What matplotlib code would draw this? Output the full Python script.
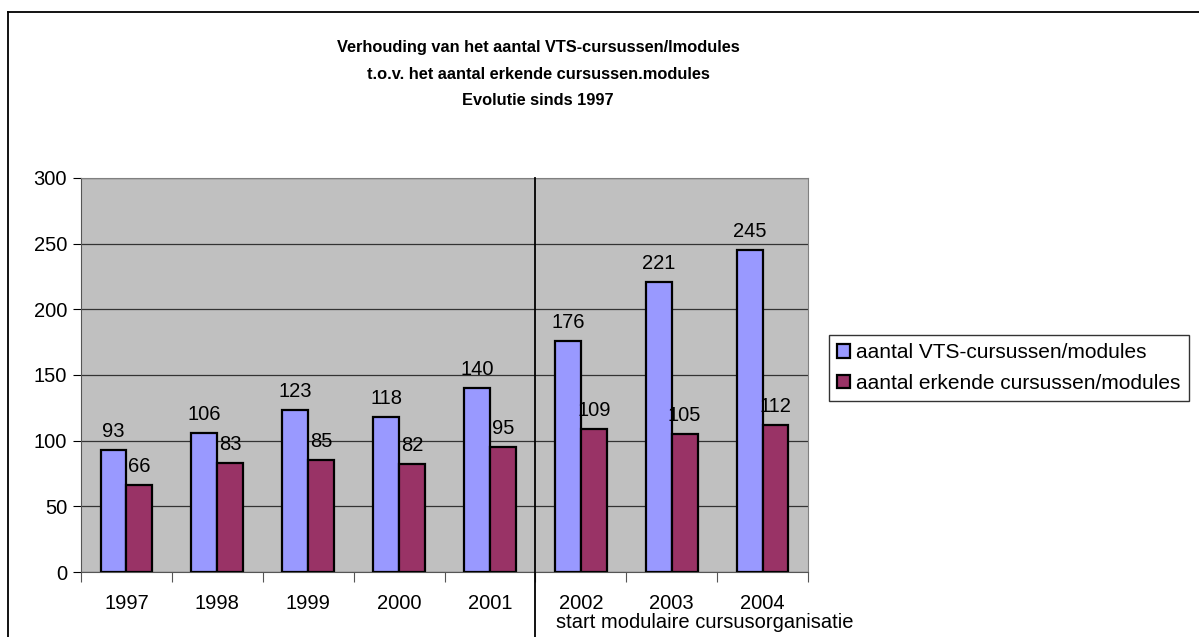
import matplotlib
matplotlib.use("Agg")
import matplotlib.pyplot as plt
from matplotlib.lines import Line2D
import numpy as np

plt.rcParams['font.family'] = ['Liberation Sans', 'DejaVu Sans']

years = ['1997', '1998', '1999', '2000', '2001', '2002', '2003', '2004']
vts = [93, 106, 123, 118, 140, 176, 221, 245]
erkend = [66, 83, 85, 82, 95, 109, 105, 112]
series_names = ['aantal VTS-cursussen/modules', 'aantal erkende cursussen/modules']
title = ("Verhouding van het aantal VTS-cursussen/lmodules\n"
         "t.o.v. het aantal erkende cursussen.modules\n"
         "Evolutie sinds 1997")
note = 'start modulaire cursusorganisatie'

W, H = 1199, 637
fig = plt.figure(figsize=(W / 100, H / 100), dpi=100)
# outer frame (only top and left visible in the reference)
fig.lines.append(Line2D([8 / W, 1.0], [1 - 12 / H, 1 - 12 / H], transform=fig.transFigure,
                        color='black', linewidth=1.3))
fig.lines.append(Line2D([8 / W, 8 / W], [1 - 12 / H, 0], transform=fig.transFigure,
                        color='black', linewidth=1.3))

ax = fig.add_axes([81 / W, 1 - 572 / H, (808 - 81) / W, (572 - 178) / H])
ax.set_facecolor('#C0C0C0')
x = np.arange(len(years))
bw = 0.285
b1 = ax.bar(x - bw / 2, vts, bw, color='#9999FF', edgecolor='black', linewidth=1.6,
            label=series_names[0], zorder=3)
b2 = ax.bar(x + bw / 2, erkend, bw, color='#993366', edgecolor='black', linewidth=1.6,
            label=series_names[1], zorder=3)
fs = 14.5
for rect, v in zip(b1, vts):
    ax.text(rect.get_x() + rect.get_width() / 2, v + 7, str(v), ha='center',
            va='bottom', fontsize=fs, zorder=4)
for rect, v in zip(b2, erkend):
    ax.text(rect.get_x() + rect.get_width() / 2, v + 7, str(v), ha='center',
            va='bottom', fontsize=fs, zorder=4)

ax.set_xlim(-0.5, len(years) - 0.5)
ax.set_ylim(0, 300)
ax.set_yticks(range(0, 301, 50))
ax.yaxis.grid(True, color='#333333', linewidth=0.9, zorder=1)
ax.set_axisbelow(True)
ax.set_xticks(np.arange(-0.5, len(years), 1.0))
ax.set_xticklabels([])
ax.set_xticks(x, minor=True)
ax.set_xticklabels(years, minor=True)
ax.tick_params(axis='x', which='minor', length=0, labelsize=fs, pad=16)
ax.tick_params(axis='x', which='major', length=7, direction='out', color='#555555')
ax.tick_params(axis='y', length=6, labelsize=fs, direction='out', pad=4)
for s in ['top', 'right']:
    ax.spines[s].set_color('#808080')
ax.spines['left'].set_color('#555555')
ax.spines['bottom'].set_color('#555555')

# divider line between 2001 and 2002, extending below the axis
ax.plot([4.5, 4.5], [300, -200], color='black', linewidth=1.3,
        clip_on=False, zorder=5)
ax.text(556 / W, 1 - 613 / H, note, fontsize=fs, ha='left', va='top',
        transform=fig.transFigure)

fig.text(538 / W, 1 - 40 / H, title, ha='center', va='top', fontsize=11.8,
         fontweight='bold', linespacing=1.97)

leg = fig.legend(loc='upper left', bbox_to_anchor=(829 / W, 1 - 335 / H),
                 fontsize=15.0, frameon=True, fancybox=False, edgecolor='black',
                 handlelength=0.6, handleheight=0.6, handletextpad=0.3,
                 borderpad=0.4, labelspacing=0.55, borderaxespad=0)
leg.get_frame().set_linewidth(1.0)
for h in leg.legend_handles:
    h.set_linewidth(1.6)

fig.savefig('out.png', dpi=100)
